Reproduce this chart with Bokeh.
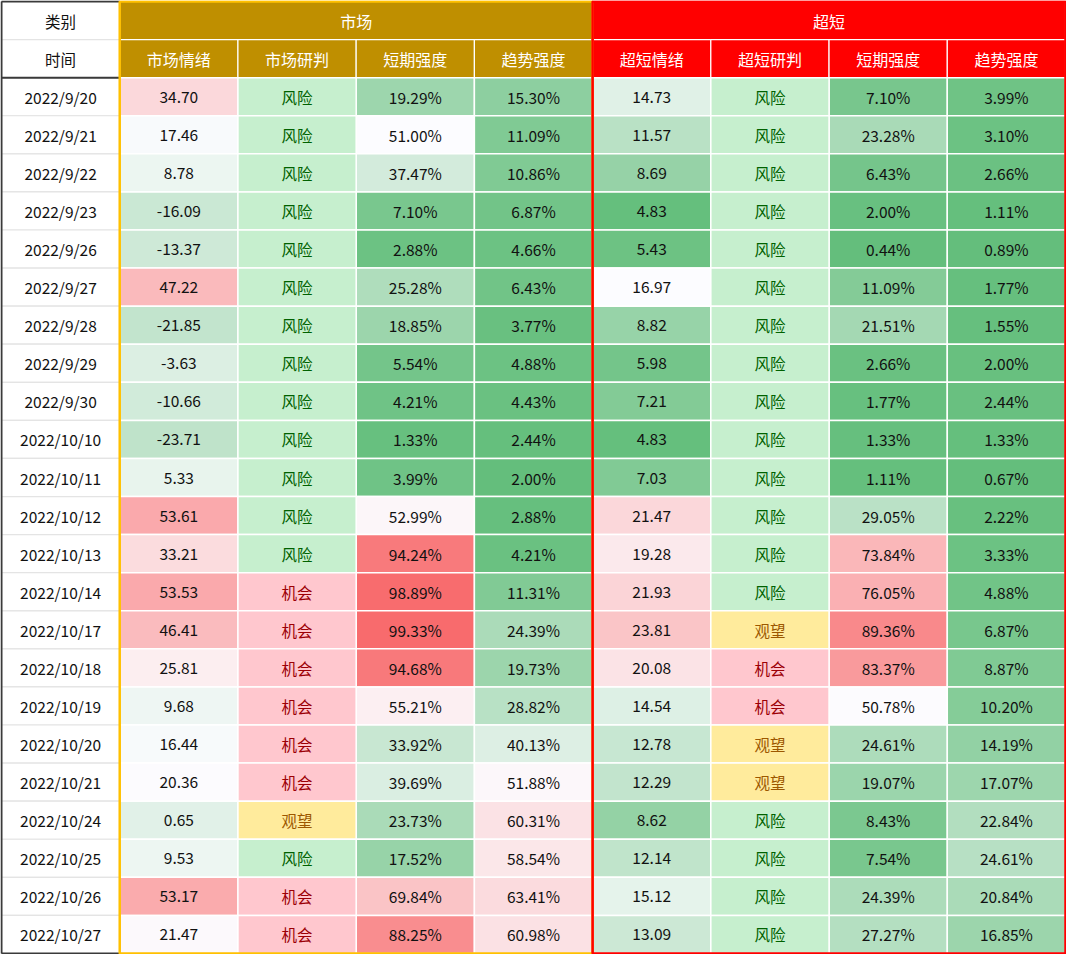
from bokeh.plotting import figure
from bokeh.models import Range1d, ColumnDataSource
from bokeh.transform import linear_cmap, factor_cmap
from bokeh.core.properties import value
from bokeh.embed import file_html
from bokeh.resources import INLINE

dates = ["2022/9/20", "2022/9/21", "2022/9/22", "2022/9/23", "2022/9/26", "2022/9/27",
         "2022/9/28", "2022/9/29", "2022/9/30", "2022/10/10", "2022/10/11", "2022/10/12",
         "2022/10/13", "2022/10/14", "2022/10/17", "2022/10/18", "2022/10/19", "2022/10/20",
         "2022/10/21", "2022/10/24", "2022/10/25", "2022/10/26", "2022/10/27"]

mkt_sent = [34.70, 17.46, 8.78, -16.09, -13.37, 47.22, -21.85, -3.63, -10.66, -23.71, 5.33, 53.61,
            33.21, 53.53, 46.41, 25.81, 9.68, 16.44, 20.36, 0.65, 9.53, 53.17, 21.47]
mkt_judge = ["风险"] * 13 + ["机会", "机会", "机会", "机会", "机会", "机会", "观望", "风险", "机会", "机会"]
mkt_short = [19.29, 51.00, 37.47, 7.10, 2.88, 25.28, 18.85, 5.54, 4.21, 1.33, 3.99, 52.99,
             94.24, 98.89, 99.33, 94.68, 55.21, 33.92, 39.69, 23.73, 17.52, 69.84, 88.25]
mkt_trend = [15.30, 11.09, 10.86, 6.87, 4.66, 6.43, 3.77, 4.88, 4.43, 2.44, 2.00, 2.88,
             4.21, 11.31, 24.39, 19.73, 28.82, 40.13, 51.88, 60.31, 58.54, 63.41, 60.98]
ss_sent = [14.73, 11.57, 8.69, 4.83, 5.43, 16.97, 8.82, 5.98, 7.21, 4.83, 7.03, 21.47,
           19.28, 21.93, 23.81, 20.08, 14.54, 12.78, 12.29, 8.62, 12.14, 15.12, 13.09]
ss_judge = ["风险"] * 14 + ["观望", "机会", "机会", "观望", "观望", "风险", "风险", "风险", "风险"]
ss_short = [7.10, 23.28, 6.43, 2.00, 0.44, 11.09, 21.51, 2.66, 1.77, 1.33, 1.11, 29.05,
            73.84, 76.05, 89.36, 83.37, 50.78, 24.61, 19.07, 8.43, 7.54, 24.39, 27.27]
ss_trend = [3.99, 3.10, 2.66, 1.11, 0.89, 1.77, 1.55, 2.00, 2.44, 1.33, 0.67, 2.22,
            3.33, 4.88, 6.87, 8.87, 10.20, 14.19, 17.07, 22.84, 24.61, 20.84, 16.85]

groups = ["市场", "超短"]
header_top_left = "类别"
header_second_left = "时间"
sub_headers = ["市场情绪", "市场研判", "短期强度", "趋势强度", "超短情绪", "超短研判", "短期强度", "趋势强度"]
judge_levels = ["风险", "机会", "观望"]

# ---- styling ----
FONT = "Noto Sans CJK SC"
GREEN = (0x63, 0xBE, 0x7B)
WHITE = (0xFC, 0xFC, 0xFF)
RED = (0xF8, 0x69, 0x6B)
JUDGE_BG = ["#C6EFCE", "#FFC7CE", "#FFEB9C"]
JUDGE_FG = ["#006100", "#9C0006", "#9C5700"]
GOLD_BG = "#BF8F00"
GOLD_LINE = "#FFC000"
RED_BG = "#FF0000"

n = len(dates)
W_PX, H_PX = 1064, 952
upx = W_PX / 9.0
upy = H_PX / 25.0
pad = 1.0

p = figure(width=W_PX + 2, height=H_PX + 2,
           x_range=Range1d(-pad / upx, 9 + pad / upx),
           y_range=Range1d(25 + pad / upy, -pad / upy),
           toolbar_location=None, output_backend="svg", min_border=0)
p.axis.visible = False
p.grid.visible = False
p.outline_line_color = None
p.background_fill_color = "white"


def three_color_palette(lo, mid, hi, N=256):
    pal = []
    for i in range(N):
        v = lo + (hi - lo) * (i + 0.5) / N
        if v <= mid:
            t = (mid - v) / (mid - lo)
            a, b = WHITE, GREEN
        else:
            t = (v - mid) / (hi - mid)
            a, b = WHITE, RED
        t = max(0.0, min(1.0, t))
        c = tuple(int(round(a[k] + (b[k] - a[k]) * t)) for k in range(3))
        pal.append("#%02x%02x%02x" % c)
    return pal


rows_y = [2.5 + i for i in range(n)]

# left column (dates)
src_dates = ColumnDataSource(dict(x=[0.5] * n, y=rows_y, t=dates))
p.rect(x="x", y="y", width=1, height=1, source=src_dates, fill_color="white",
       line_color="#e4e4e4", line_width=1.2)
p.text(x="x", y="y", text="t", source=src_dates, text_align="center", text_baseline="middle",
       text_font=value(FONT), text_font_size="15.5px", text_color="#111111")

# header left
src_hl = ColumnDataSource(dict(x=[0.5, 0.5], y=[0.5, 1.5], t=[header_top_left, header_second_left]))
p.rect(x="x", y="y", width=1, height=1, source=src_hl, fill_color="white", line_color="#e4e4e4",
       line_width=1.2)
p.text(x="x", y="y", text="t", source=src_hl, text_align="center", text_baseline="middle",
       text_font=value(FONT), text_font_size="15.5px", text_color="#111111")

# group headers
src_g = ColumnDataSource(dict(x=[3.0, 7.0], y=[0.5, 0.5], t=groups, c=[GOLD_BG, RED_BG]))
p.rect(x="x", y="y", width=4, height=1, source=src_g, fill_color="c", line_color="white",
       line_width=1.2)
p.text(x="x", y="y", text="t", source=src_g, text_align="center", text_baseline="middle",
       text_font=value(FONT), text_font_size="16px", text_color="white")

# sub headers
sub_x = [1.5 + i for i in range(8)]
src_s = ColumnDataSource(dict(x=sub_x, y=[1.5] * 8, t=sub_headers,
                              c=[GOLD_BG] * 4 + [RED_BG] * 4))
p.rect(x="x", y="y", width=1, height=1, source=src_s, fill_color="c", line_color="white",
       line_width=1.2)
p.text(x="x", y="y", text="t", source=src_s, text_align="center", text_baseline="middle",
       text_font=value(FONT), text_font_size="16px", text_color="white")

# numeric columns with 3-color scales: (values, column x, (lo, mid, hi), is_percent)
numeric_cols = [
    (mkt_sent, 1.5, (-90.0, 20.0, 80.0), False),
    (mkt_short, 3.5, (0.0, 51.0, 100.0), True),
    (mkt_trend, 4.5, (2.0, 50.0, 110.0), True),
    (ss_sent, 5.5, (4.6, 17.0, 35.0), False),
    (ss_short, 7.5, (0.44, 50.5, 100.0), True),
    (ss_trend, 8.5, (0.67, 44.0, 100.0), True),
]
for vals, cx, (lo, mid, hi), pct in numeric_cols:
    labels = [("%.2f%%" % v) if pct else ("%.2f" % v) for v in vals]
    src = ColumnDataSource(dict(x=[cx] * n, y=rows_y, v=vals, t=labels))
    pal = three_color_palette(lo, mid, hi)
    p.rect(x="x", y="y", width=1, height=1, source=src,
           fill_color=linear_cmap("v", pal, lo, hi), line_color="white", line_width=1.5)
    p.text(x="x", y="y", text="t", source=src, text_align="center", text_baseline="middle",
           text_font=value(FONT), text_font_size="15.5px", text_color="#111111")

# judgement columns
for vals, cx in [(mkt_judge, 2.5), (ss_judge, 6.5)]:
    src = ColumnDataSource(dict(x=[cx] * n, y=rows_y, t=vals))
    p.rect(x="x", y="y", width=1, height=1, source=src,
           fill_color=factor_cmap("t", JUDGE_BG, judge_levels), line_color="white", line_width=1.5)
    p.text(x="x", y="y", text="t", source=src, text_align="center", text_baseline="middle",
           text_font=value(FONT), text_font_size="15.5px",
           text_color=factor_cmap("t", JUDGE_FG, judge_levels))

# borders
p.multi_line(xs=[[0, 0], [0, 1], [0, 1], [0, 1]], ys=[[0, 25], [0, 0], [2, 2], [25, 25]],
             line_color="#3a3a3a", line_width=2)
p.rect(x=[3.0], y=[12.5], width=4, height=25, fill_color=None, line_color=GOLD_LINE, line_width=2.5)
p.rect(x=[7.0], y=[12.5], width=4, height=25, fill_color=None, line_color=RED_BG, line_width=2.5)

open("out.html", "w").write(file_html(p, INLINE))
